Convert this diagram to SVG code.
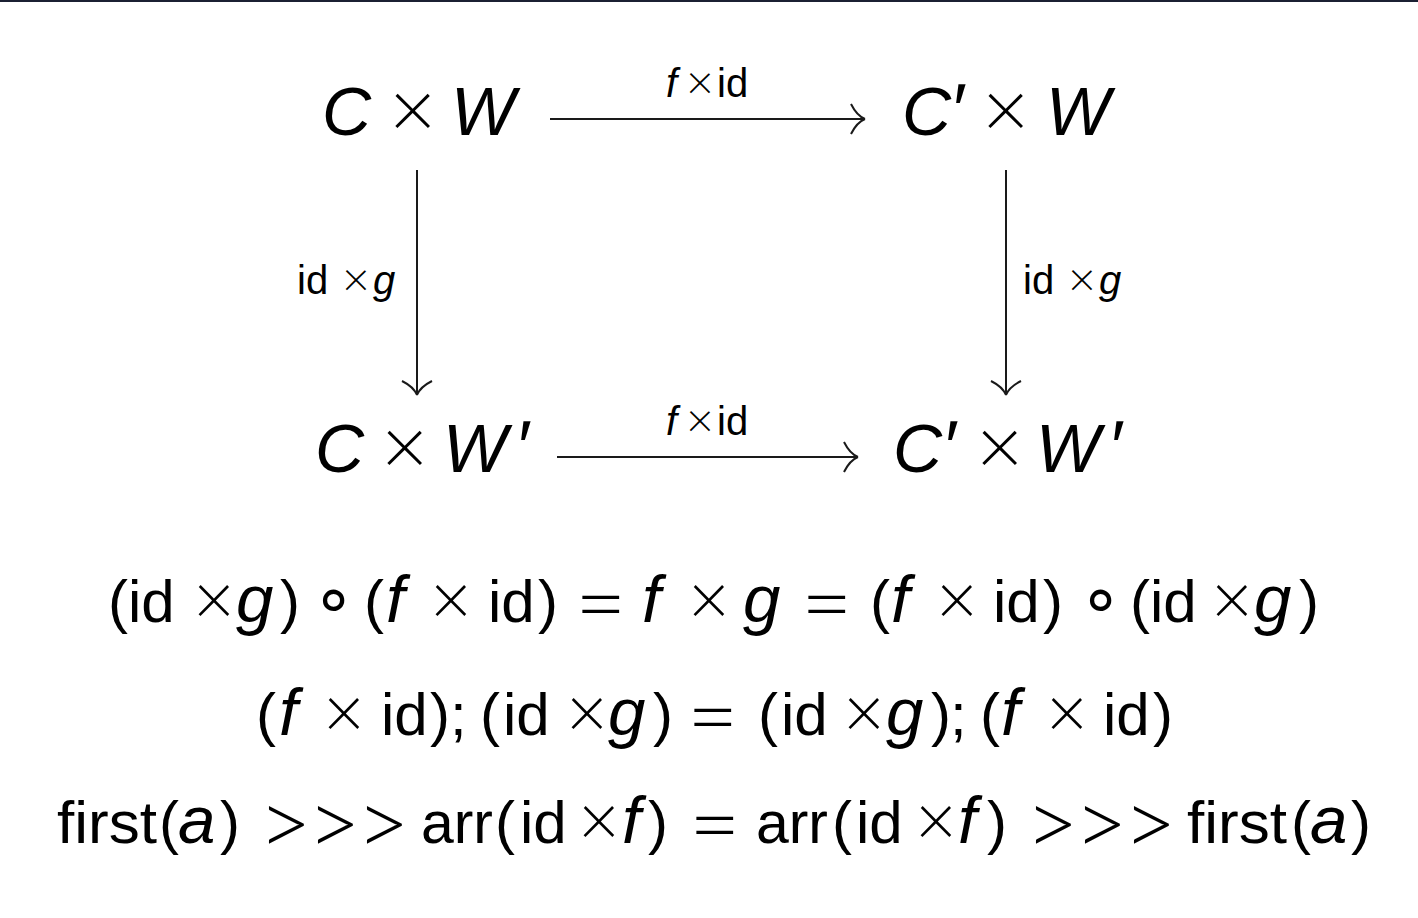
<svg xmlns="http://www.w3.org/2000/svg" width="1418" height="918" viewBox="0 0 1418 918">
<style>
text{font-family:"Liberation Sans","DejaVu Sans",sans-serif;fill:#000}
.node{font-size:68px}
.lbl{font-size:40px}
.eq{font-size:60px}
.i{font-style:italic}
.x{font-family:Lato,"Liberation Sans",sans-serif;font-weight:300;font-size:1.2em;baseline-shift:-0.04em}
.gt{font-family:Lato,"Liberation Sans",sans-serif;font-weight:300;font-size:1.55em;baseline-shift:-0.14em}
.e{font-family:Lato,"Liberation Sans",sans-serif;font-weight:300;font-size:1.48em;baseline-shift:-0.13em}
.g{font-size:1.12em}
.op{font-family:"DejaVu Sans","Liberation Sans",sans-serif;font-size:1.15em}
.pr{font-size:1.1em}
.edge{stroke:#1a1a1a;stroke-width:2;fill:none}
</style>
<defs>
<marker id="ah" viewBox="-16 -17 18 34" refX="0" refY="0" markerWidth="18" markerHeight="34" markerUnits="userSpaceOnUse" orient="auto">
<path d="M-14,-15 C-10,-7 -5,-2 0,0 M-14,15 C-10,7 -5,2 0,0" fill="none" stroke="#1a1a1a" stroke-width="2"/>
</marker>
</defs>
<rect x="0" y="0" width="1418" height="2" fill="#1b2033"/>
<g id="connectors">
<g id="e-top"><line class="edge" x1="550" y1="119" x2="865" y2="119" marker-end="url(#ah)"/><text class="lbl" y="97"><tspan class="i" x="666">f</tspan><tspan class="x" x="686">×</tspan><tspan x="717">id</tspan></text></g>
<g id="e-bottom"><line class="edge" x1="557" y1="457" x2="858" y2="457" marker-end="url(#ah)"/><text class="lbl" y="435"><tspan class="i" x="666">f</tspan><tspan class="x" x="686">×</tspan><tspan x="717">id</tspan></text></g>
<g id="e-left"><line class="edge" x1="417" y1="170" x2="417" y2="395" marker-end="url(#ah)"/><text class="lbl" y="294"><tspan x="297">id</tspan><tspan class="x" x="342">×</tspan><tspan class="i" x="373">g</tspan></text></g>
<g id="e-right"><line class="edge" x1="1006" y1="170" x2="1006" y2="395" marker-end="url(#ah)"/><text class="lbl" y="294"><tspan x="1023">id</tspan><tspan class="x" x="1068">×</tspan><tspan class="i" x="1099">g</tspan></text></g>
</g>
<g id="n-cw"><text class="node" y="135"><tspan class="i" x="322">C</tspan><tspan class="x" x="389">×</tspan><tspan class="i" x="451">W</tspan></text></g>
<g id="n-cpw"><text class="node" y="135"><tspan class="i" x="902">C</tspan><tspan class="pr" x="953">′</tspan><tspan class="x" x="982">×</tspan><tspan class="i" x="1046">W</tspan></text></g>
<g id="n-cwp"><text class="node" y="472"><tspan class="i" x="315">C</tspan><tspan class="x" x="381">×</tspan><tspan class="i" x="443">W</tspan><tspan class="pr" x="518">′</tspan></text></g>
<g id="n-cpwp"><text class="node" y="472"><tspan class="i" x="893">C</tspan><tspan class="pr" x="945">′</tspan><tspan class="x" x="976">×</tspan><tspan class="i" x="1036">W</tspan><tspan class="pr" x="1111">′</tspan></text></g>
<g id="eq1"><text class="eq" y="622"><tspan x="108">(</tspan><tspan x="128">id</tspan><tspan class="x" x="193">×</tspan><tspan class="i g" x="236">g</tspan><tspan x="280">)</tspan><tspan class="op" x="312">∘</tspan><tspan x="364">(</tspan><tspan class="i g" x="386">f</tspan><tspan class="x" x="430">×</tspan><tspan x="488">id</tspan><tspan x="538">)</tspan><tspan class="e" x="575">=</tspan><tspan class="i g" x="642">f</tspan><tspan class="x" x="688">×</tspan><tspan class="i g" x="743">g</tspan><tspan class="e" x="801">=</tspan><tspan x="870">(</tspan><tspan class="i g" x="891">f</tspan><tspan class="x" x="936">×</tspan><tspan x="993">id</tspan><tspan x="1043">)</tspan><tspan class="op" x="1079">∘</tspan><tspan x="1130">(</tspan><tspan x="1150">id</tspan><tspan class="x" x="1211">×</tspan><tspan class="i g" x="1254">g</tspan><tspan x="1299">)</tspan></text></g>
<g id="eq2"><text class="eq" y="735"><tspan x="256">(</tspan><tspan class="i g" x="279">f</tspan><tspan class="x" x="323">×</tspan><tspan x="381">id</tspan><tspan x="430">)</tspan><tspan x="450">;</tspan><tspan x="480">(</tspan><tspan x="503">id</tspan><tspan class="x" x="566">×</tspan><tspan class="i g" x="608">g</tspan><tspan x="653">)</tspan><tspan class="e" x="687">=</tspan><tspan x="758">(</tspan><tspan x="781">id</tspan><tspan class="x" x="843">×</tspan><tspan class="i g" x="886">g</tspan><tspan x="931">)</tspan><tspan x="950">;</tspan><tspan x="980">(</tspan><tspan class="i g" x="1001">f</tspan><tspan class="x" x="1046">×</tspan><tspan x="1103">id</tspan><tspan x="1153">)</tspan></text></g>
<g id="eq3"><text class="eq" y="843"><tspan x="57" textLength="100" lengthAdjust="spacingAndGlyphs">first</tspan><tspan x="159">(</tspan><tspan class="i g" x="178">a</tspan><tspan x="220">)</tspan><tspan class="gt" x="258">&gt;</tspan><tspan class="gt" x="307">&gt;</tspan><tspan class="gt" x="356">&gt;</tspan><tspan x="421" textLength="72" lengthAdjust="spacingAndGlyphs">arr</tspan><tspan x="495">(</tspan><tspan x="520">id</tspan><tspan class="x" x="578">×</tspan><tspan class="i g" x="622">f</tspan><tspan x="648">)</tspan><tspan class="e" x="689">=</tspan><tspan x="756" textLength="72" lengthAdjust="spacingAndGlyphs">arr</tspan><tspan x="832">(</tspan><tspan x="856">id</tspan><tspan class="x" x="915">×</tspan><tspan class="i g" x="958">f</tspan><tspan x="987">)</tspan><tspan class="gt" x="1025">&gt;</tspan><tspan class="gt" x="1074">&gt;</tspan><tspan class="gt" x="1123">&gt;</tspan><tspan x="1187" textLength="100" lengthAdjust="spacingAndGlyphs">first</tspan><tspan x="1291">(</tspan><tspan class="i g" x="1310">a</tspan><tspan x="1351">)</tspan></text></g>
</svg>
